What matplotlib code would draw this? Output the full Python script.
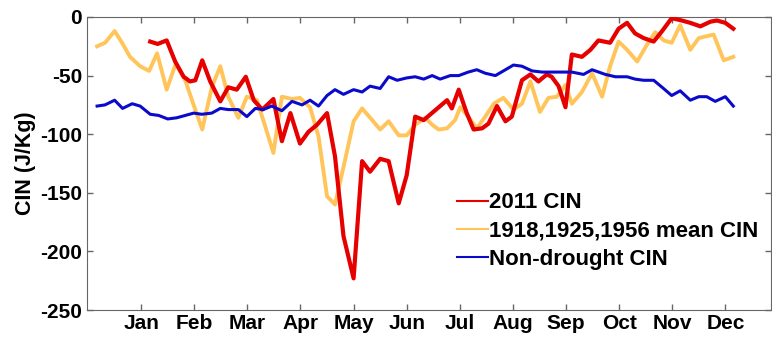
import numpy as np
import matplotlib
matplotlib.use("Agg")
import matplotlib.pyplot as plt

plt.rcParams['font.family'] = ['Liberation Sans', 'DejaVu Sans']
plt.rcParams['axes.unicode_minus'] = False

# x positions are in months (1 = Jan tick)
months = ['Jan', 'Feb', 'Mar', 'Apr', 'May', 'Jun', 'Jul', 'Aug', 'Sep', 'Oct', 'Nov', 'Dec']

x_2011 = [1.17, 1.31, 1.48, 1.64, 1.80, 1.92, 2.02, 2.15, 2.30, 2.49, 2.64, 2.80, 2.97, 3.12,
          3.28, 3.49, 3.65, 3.81, 3.99, 4.15, 4.31, 4.50, 4.65, 4.81, 5.00, 5.16, 5.31, 5.50,
          5.66, 5.85, 6.00, 6.16, 6.32, 6.50, 6.63, 6.76, 6.85, 6.98, 7.13, 7.26, 7.42, 7.54,
          7.70, 7.86, 7.98, 8.17, 8.33, 8.48, 8.64, 8.73, 8.86, 8.99, 9.11, 9.30, 9.46, 9.61,
          9.83, 9.99, 10.15, 10.30, 10.46, 10.65, 10.81, 10.99, 11.18, 11.34, 11.53, 11.72,
          11.84, 12.00, 12.15]
cin_2011 = [-21, -23, -20, -38, -51, -55, -54, -37, -55, -72, -60, -62, -51, -71,
            -79, -70, -106, -82, -108, -98, -92, -82, -119, -187, -223, -123, -132, -121,
            -123, -159, -135, -85, -88, -81, -76, -71, -78, -62, -82, -96, -95, -91,
            -76, -89, -85, -54, -49, -55, -49, -51, -59, -77, -32, -34, -28, -20,
            -22, -10, -5, -14, -18, -21, -12, -1, -3, -5, -8, -4,
            -3, -5, -10]

x_mean = [0.17, 0.32, 0.50, 0.64, 0.79, 0.98, 1.15, 1.30, 1.48, 1.65, 1.83, 1.98, 2.15, 2.33,
          2.49, 2.64, 2.83, 2.99, 3.18, 3.34, 3.49, 3.65, 3.84, 3.99, 4.18, 4.34, 4.50, 4.65,
          4.81, 5.00, 5.16, 5.35, 5.50, 5.66, 5.85, 6.00, 6.16, 6.35, 6.48, 6.60, 6.76, 6.91,
          7.01, 7.16, 7.32, 7.48, 7.64, 7.82, 8.01, 8.17, 8.33, 8.51, 8.67, 8.83, 8.99, 9.11,
          9.30, 9.49, 9.68, 9.83, 9.99, 10.15, 10.34, 10.52, 10.68, 10.84, 10.99, 11.15, 11.34,
          11.50, 11.78, 11.97, 12.15]
cin_mean = [-25, -22, -12, -22, -34, -42, -46, -31, -62, -40, -54, -74, -96, -60,
            -42, -68, -86, -68, -71, -94, -116, -68, -70, -69, -77, -102, -153, -160,
            -128, -89, -78, -88, -96, -89, -101, -101, -92, -86, -92, -96, -95, -88,
            -77, -85, -95, -85, -74, -69, -79, -74, -55, -81, -69, -68, -58, -74,
            -64, -48, -68, -42, -21, -28, -38, -24, -13, -20, -22, -7, -28,
            -18, -15, -37, -34]

x_nd = [0.17, 0.32, 0.50, 0.65, 0.83, 0.98, 1.17, 1.33, 1.50, 1.67, 1.83, 1.99, 2.14, 2.33,
        2.49, 2.64, 2.83, 2.99, 3.15, 3.30, 3.46, 3.65, 3.84, 4.03, 4.18, 4.34, 4.50, 4.65,
        4.81, 5.00, 5.16, 5.31, 5.50, 5.66, 5.82, 6.00, 6.16, 6.32, 6.48, 6.63, 6.82, 6.98,
        7.16, 7.32, 7.48, 7.67, 7.86, 8.01, 8.17, 8.36, 8.55, 8.73, 8.92, 9.11, 9.33, 9.49,
        9.74, 9.93, 10.15, 10.30, 10.46, 10.65, 10.81, 10.99, 11.15, 11.34, 11.50, 11.65,
        11.81, 12.00, 12.15]
cin_nd = [-76, -75, -71, -78, -74, -76, -83, -84, -87, -86, -84, -82, -83, -82,
          -78, -79, -79, -85, -78, -79, -76, -80, -72, -75, -71, -76, -67, -62,
          -66, -62, -64, -59, -61, -51, -54, -52, -51, -53, -50, -53, -50, -50,
          -47, -45, -48, -50, -45, -41, -42, -46, -47, -47, -47, -47, -49, -45,
          -49, -51, -51, -53, -54, -54, -60, -67, -63, -71, -68, -68,
          -72, -68, -76]

fig = plt.figure(figsize=(7.72, 3.37), dpi=100)
ax = fig.add_axes([0.1127, 0.0801, 0.886, 0.8695])

ax.plot(x_2011, cin_2011, color='#e60000', lw=3.0, label='2011 CIN', zorder=3)
ax.plot(x_mean, cin_mean, color='#ffc55a', lw=2.8, label='1918,1925,1956 mean CIN', zorder=2)
ax.plot(x_nd, cin_nd, color='#0a0acc', lw=2.2, label='Non-drought CIN', zorder=4)

ax.set_xlim(-0.02, 12.86)
ax.set_ylim(-250, 0)
ax.set_xticks(range(1, 13))
ax.set_xticklabels(months)
ax.set_yticks([0, -50, -100, -150, -200, -250])
ax.tick_params(direction='in', top=True, right=True, length=4.5, width=1,
               labelsize=15, colors='#666666', labelcolor='black')
ax.tick_params(axis='x', pad=3)
ax.tick_params(axis='y', pad=3.5)
for lab in ax.get_xticklabels() + ax.get_yticklabels():
    lab.set_fontweight('bold')
for sp in ax.spines.values():
    sp.set_color('#666666')
ax.set_ylabel('CIN (J/Kg)', fontsize=15.5, fontweight='bold', labelpad=3)

leg = ax.legend(loc='center left', bbox_to_anchor=(0.525, 0.27), frameon=False,
                borderpad=0, handlelength=1.4, handletextpad=0.05, labelspacing=0.32,
                prop={'size': 16, 'weight': 'bold'})
for h in leg.get_lines():
    h.set_linewidth(1.5)

fig.savefig('out.png', dpi=100)
